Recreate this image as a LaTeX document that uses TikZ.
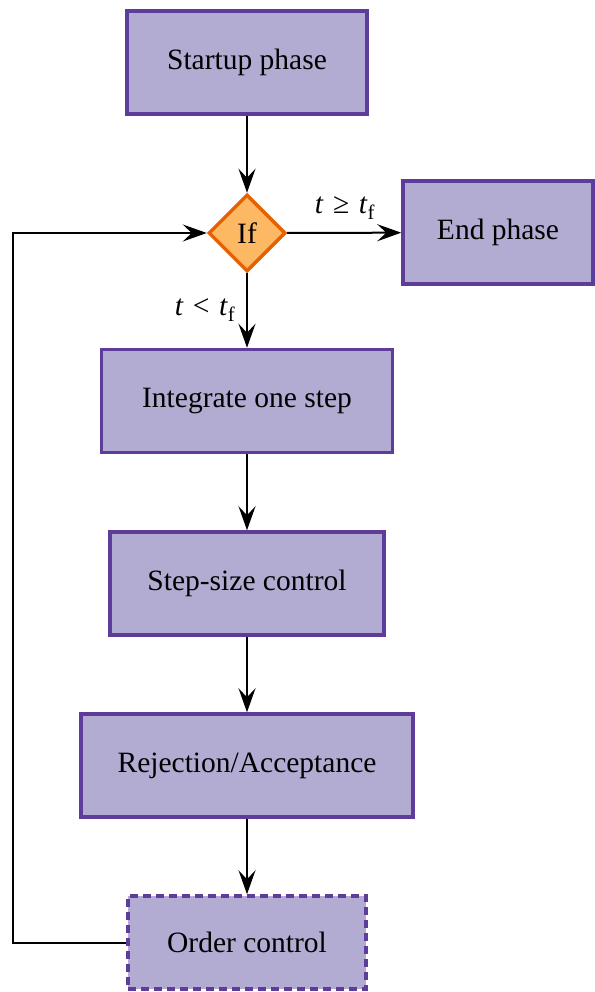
\documentclass[tikz,border=0pt]{standalone}
\usepackage{fontspec}
\setmainfont{Liberation Serif}
\usetikzlibrary{arrows.meta,shapes.geometric}
\definecolor{boxfill}{HTML}{B2ABD2}
\definecolor{boxline}{HTML}{5E3C99}
\definecolor{testfill}{HTML}{FDB863}
\definecolor{testline}{HTML}{E66101}
\newcommand{\relgap}{\hspace{0.32em}}
\tikzset{
  stage/.style={draw=boxline, fill=boxfill, line width=3.5pt, minimum height=103pt,
    inner sep=0pt, font=\fontsize{29.5}{34}\selectfont},
  test/.style={diamond, draw=testline, fill=testfill, line width=3.5pt, minimum width=77pt,
    minimum height=77pt, inner sep=0pt, font=\fontsize{29.5}{34}\selectfont},
  flow/.style={line width=2pt, -{Stealth[length=24pt,width=17pt,inset=9pt]}},
  cond/.style={font=\fontsize{29.5}{34}\selectfont, inner sep=0pt}
}
\begin{document}
\begin{tikzpicture}[x=1pt,y=-1pt]
  \useasboundingbox (0,0) rectangle (594,992);
  \node[stage, minimum width=240pt] (start) at (247,62.5) {Startup phase};
  \node[test] (if) at (247,233) {If};
  \node[stage, minimum width=190pt] (end) at (498,232.5) {End phase};
  \node[stage, minimum width=291pt] (integ) at (247,401) {Integrate one step};
  \node[stage, minimum width=274pt] (ssc) at (247,583.5) {Step-size control};
  \node[stage, minimum width=332pt] (rej) at (247,765.5) {Rejection/Acceptance};
  \node[stage, minimum width=238pt, minimum height=93pt, dash pattern=on 8pt off 5pt] (ord) at (247,942.5) {Order control};
  \coordinate (loop) at (13,0);

  \draw[flow] (start) -- (if);
  \draw[flow] (if) -- (end);
  \draw[flow] (if) -- (integ);
  \draw[flow] (integ) -- (ssc);
  \draw[flow] (ssc) -- (rej);
  \draw[flow] (rej) -- (ord);
  \draw[flow] (ord.west) -- (loop |- ord.west) -- (loop |- if.west) -- (if.west);

  \node[cond] (ge) at (345,208) {\textit{t}\relgap≥\relgap\textit{t}\textsubscript{f}};
  \node[cond] (lt) at (205,310) {\textit{t}\relgap<\relgap\textit{t}\textsubscript{f}};
\end{tikzpicture}
\end{document}
